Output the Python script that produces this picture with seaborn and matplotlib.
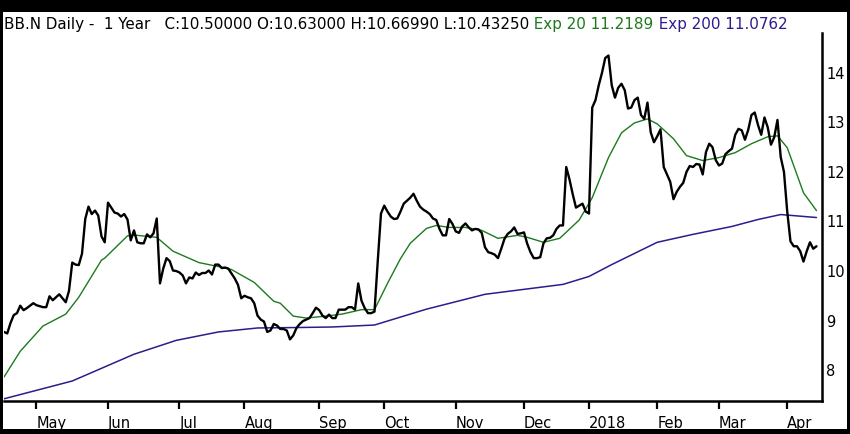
import numpy as np
import pandas as pd
import matplotlib.pyplot as plt
import seaborn as sns
from matplotlib.patches import Rectangle

# trading days on the chart, 2017-04-17 .. 2018-04-13
start_date = '2017-04-17'
n_days = 251
market_holidays = ['2017-05-29', '2017-07-04', '2017-09-04', '2017-11-23',
                   '2017-12-25', '2018-01-01', '2018-01-15', '2018-02-19',
                   '2018-03-30']

# daily close
close = [
    8.77, 8.74, 8.95, 9.11, 9.15, 9.30, 9.21, 9.25, 9.30, 9.35,
    9.31, 9.29, 9.27, 9.27, 9.49, 9.41, 9.47, 9.53, 9.45, 9.37,
    9.60, 10.17, 10.13, 10.12, 10.35, 11.05, 11.30, 11.15, 11.22, 11.12,
    10.70, 10.58, 11.38, 11.28, 11.18, 11.16, 11.10, 11.15, 11.04, 10.62,
    10.82, 10.58, 10.56, 10.56, 10.74, 10.68, 10.76, 11.06, 9.75, 10.05,
    10.26, 10.20, 10.01, 10.00, 9.97, 9.91, 9.75, 9.87, 9.85, 9.97,
    9.92, 9.96, 9.96, 10.01, 9.93, 10.13, 10.13, 10.06, 10.07, 10.05,
    9.95, 9.85, 9.72, 9.45, 9.50, 9.47, 9.45, 9.35, 9.10, 9.02,
    8.98, 8.77, 8.80, 8.93, 8.90, 8.83, 8.83, 8.80, 8.62, 8.70,
    8.85, 8.93, 8.99, 9.02, 9.05, 9.15, 9.26, 9.21, 9.10, 9.05,
    9.12, 9.05, 9.05, 9.22, 9.22, 9.22, 9.27, 9.27, 9.22, 9.75,
    9.40, 9.25, 9.15, 9.15, 9.18, 10.20, 11.16, 11.32, 11.20, 11.10,
    11.05, 11.06, 11.20, 11.36, 11.42, 11.48, 11.56, 11.42, 11.30, 11.24,
    11.20, 11.15, 11.06, 11.03, 10.85, 10.72, 10.72, 11.05, 10.95, 10.80,
    10.77, 10.90, 10.96, 10.88, 10.82, 10.85, 10.84, 10.77, 10.48, 10.38,
    10.36, 10.33, 10.26, 10.45, 10.65, 10.75, 10.80, 10.88, 10.75, 10.76,
    10.78, 10.55, 10.38, 10.26, 10.26, 10.28, 10.56, 10.66, 10.67, 10.72,
    10.85, 10.92, 10.92, 12.10, 11.85, 11.55, 11.28, 11.32, 11.36, 11.20,
    11.16, 13.30, 13.45, 13.75, 14.00, 14.30, 14.35, 13.75, 13.50, 13.70,
    13.78, 13.65, 13.28, 13.30, 13.45, 13.50, 13.15, 13.07, 13.40, 12.80,
    12.60, 12.72, 12.86, 12.10, 11.95, 11.80, 11.45, 11.60, 11.70, 11.78,
    12.00, 12.12, 12.10, 12.16, 12.15, 11.95, 12.40, 12.57, 12.50, 12.24,
    12.13, 12.17, 12.36, 12.42, 12.47, 12.75, 12.87, 12.84, 12.65, 12.85,
    13.15, 13.20, 12.95, 12.75, 13.10, 12.90, 12.55, 12.70, 13.05, 12.30,
    12.00, 11.20, 10.60, 10.50, 10.50, 10.40, 10.19, 10.40, 10.58, 10.45, 10.50,
]

# exponential averages, read at a few trading days each
ema20_day = [0, 5, 12, 19, 23, 30, 31, 38, 41, 47, 52, 60, 66, 70, 77, 83, 85,
             89, 91, 93, 99, 104, 110, 114, 118, 122, 125, 126, 130, 133, 137,
             142, 147, 152, 158, 161, 166, 171, 177, 181, 186, 190, 194, 198,
             201, 206, 210, 215, 220, 225, 230, 235, 238, 241, 246, 250]
ema20 = [7.86, 8.38, 8.89, 9.13, 9.47, 10.22, 10.26, 10.71, 10.72, 10.68, 10.40,
         10.17, 10.09, 10.03, 9.77, 9.39, 9.35, 9.09, 9.07, 9.05, 9.09, 9.13,
         9.22, 9.22, 9.75, 10.25, 10.56, 10.62, 10.86, 10.92, 10.88, 10.88,
         10.82, 10.66, 10.72, 10.68, 10.58, 10.66, 11.03, 11.48, 12.29, 12.79,
         12.99, 13.07, 12.97, 12.67, 12.33, 12.23, 12.29, 12.39, 12.57, 12.71,
         12.73, 12.49, 11.58, 11.22]

ema200_day = [0, 21, 40, 53, 66, 78, 91, 101, 114, 130, 148, 160, 172, 180,
              187, 201, 212, 224, 232, 239, 250]
ema200 = [7.42, 7.78, 8.32, 8.60, 8.77, 8.85, 8.86, 8.87, 8.91, 9.23, 9.53,
          9.63, 9.73, 9.89, 10.13, 10.58, 10.74, 10.90, 11.04, 11.14, 11.08]

y_ticks = [8, 9, 10, 11, 12, 13, 14]

title_main = 'BB.N Daily -  1 Year   C:10.50000 O:10.63000 H:10.66990 L:10.43250'
title_ema20 = ' Exp 20 11.2189'
title_ema200 = ' Exp 200 11.0762'

green = '#1d7a1d'
navy = '#2c1d8c'

sns.set_style('white')
plt.rcParams['font.family'] = ['DejaVu Sans']

W, H = 850, 434
fig = plt.figure(figsize=(W / 100, H / 100), dpi=100, facecolor='black')
# white panel inside the black frame
fig.add_artist(Rectangle((3 / W, 5 / H), 844 / W, (H - 12 - 5) / H,
                         transform=fig.transFigure, facecolor='white',
                         edgecolor='none', zorder=0))

ax = fig.add_axes([4 / W, 33 / H, 818 / W, 368 / H])
ax.set_facecolor('white')

dates = pd.bdate_range(start=start_date, periods=n_days, freq='C',
                       holidays=market_holidays)
prices = pd.DataFrame({'day': np.arange(n_days), 'close': close})

sns.lineplot(x=ema200_day, y=ema200, ax=ax, color=navy, linewidth=1.1, zorder=2)
sns.lineplot(x=ema20_day, y=ema20, ax=ax, color=green, linewidth=1.0, zorder=3)
sns.lineplot(data=prices, x='day', y='close', ax=ax, color='black',
             linewidth=1.7, zorder=4, solid_joinstyle='round')

ax.set_xlim(0, 251.7)
ax.set_ylim(7.376, 14.805)

# month ticks at the first trading day of each month
months = np.asarray(dates.month)
starts = np.flatnonzero(months != np.roll(months, 1))
starts = starts[starts > 0]
labels = [str(dates[i].year) if dates[i].month == 1 else dates[i].strftime('%b')
          for i in starts]
ax.set_xticks(starts)
ax.set_xticklabels(labels, ha='left')
ax.set_yticks(y_ticks)
ax.set_yticklabels([str(v) for v in y_ticks])
ax.yaxis.tick_right()

ax.tick_params(axis='x', direction='out', length=5.5, width=1.6, color='black',
               pad=5, labelsize=10.5, labelcolor='black', bottom=True)
ax.tick_params(axis='y', length=0, pad=3, labelsize=10.5, labelcolor='black',
               right=True, left=False)

for side in ['left', 'top']:
    ax.spines[side].set_visible(False)
for side in ['bottom', 'right']:
    ax.spines[side].set_visible(True)
    ax.spines[side].set_color('black')
    ax.spines[side].set_linewidth(1.8)
ax.set_xlabel('')
ax.set_ylabel('')

# header text in three colours
t = fig.text(4 / W, 1 - 29 / H, title_main, fontsize=10.9, color='black',
             va='baseline', ha='left')
t = ax.annotate(title_ema20, xy=(1, 0), xycoords=t, va='bottom', ha='left',
                fontsize=10.9, color=green, annotation_clip=False)
ax.annotate(title_ema200, xy=(1, 0), xycoords=t, va='bottom', ha='left',
            fontsize=10.9, color=navy, annotation_clip=False)

fig.savefig('out.png', dpi=100, facecolor=fig.get_facecolor())
